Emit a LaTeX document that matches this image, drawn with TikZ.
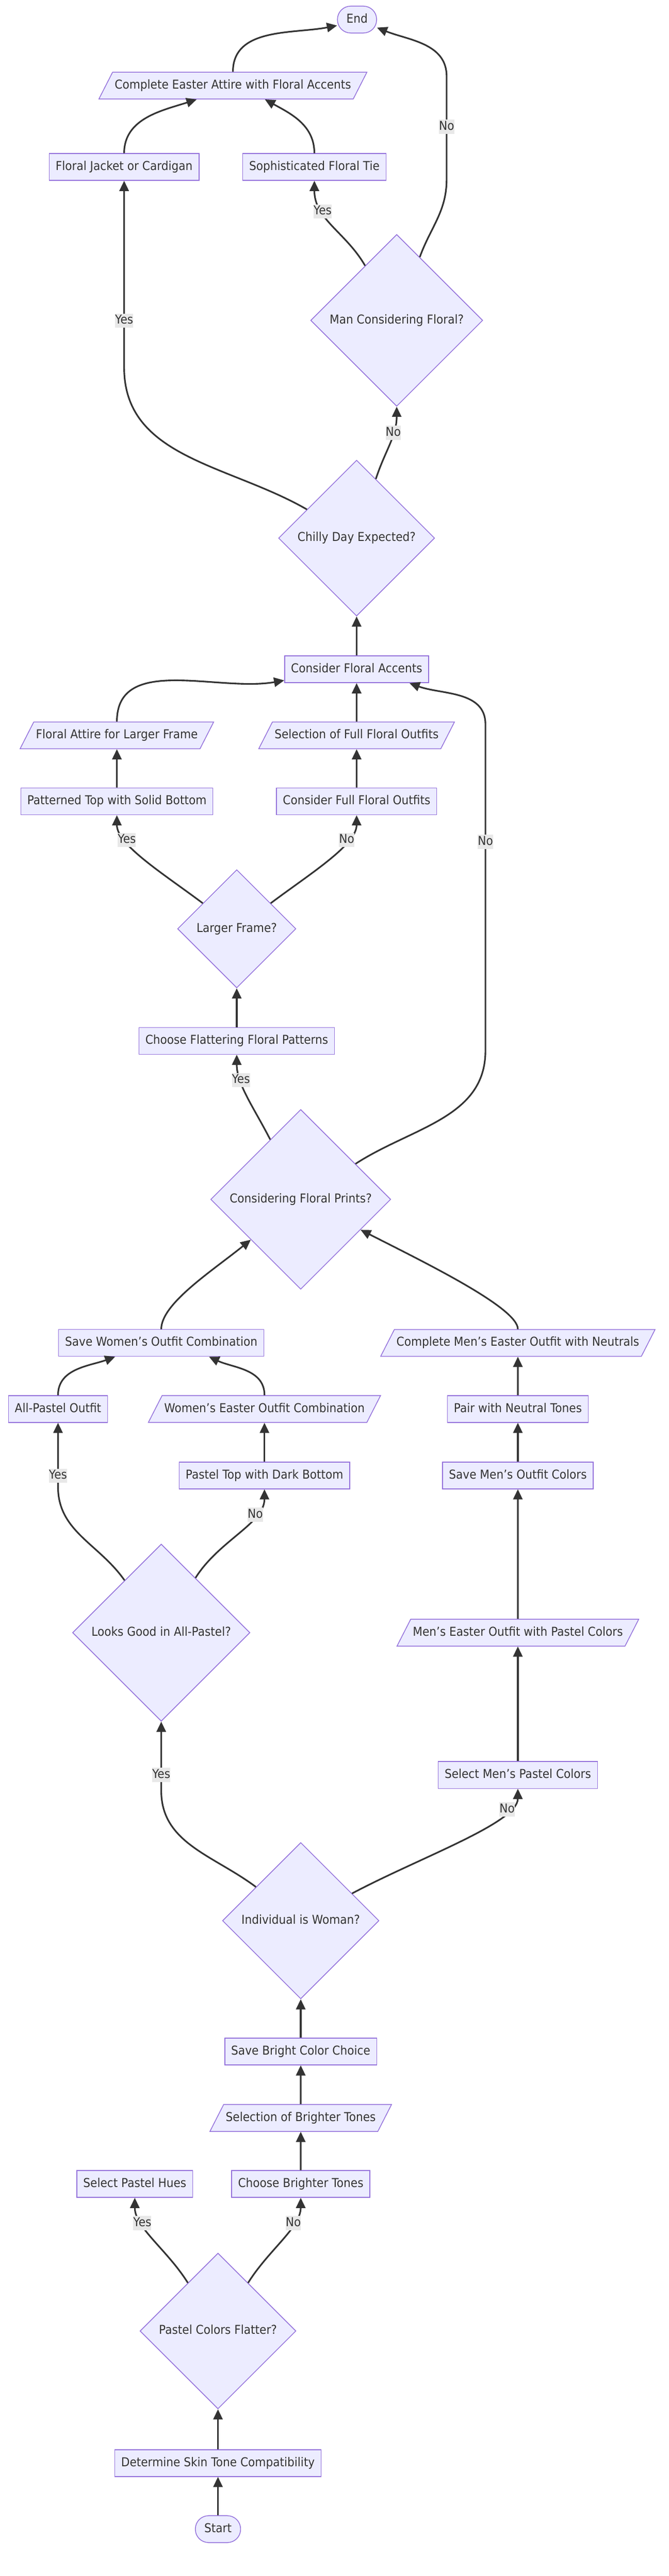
\documentclass[tikz,border=0pt]{standalone}
\usepackage{fontspec}
\setmainfont{DejaVu Sans}[FakeStretch=0.91]
\usetikzlibrary{positioning,shapes.geometric,arrows.meta}

\definecolor{nodefill}{HTML}{ECECFF}
\definecolor{nodeline}{HTML}{9370DB}
\definecolor{edgegray}{HTML}{333333}
\definecolor{labelfill}{HTML}{E8E8E8}

\begin{document}
\begin{tikzpicture}[font=\fontsize{14.4pt}{17pt}\selectfont,text=edgegray]

		\tikzstyle{process}=[rectangle,
			fill=nodefill,draw=nodeline,line width=0.9pt,
			text height=11pt,text depth=3.5pt,
			minimum height=31.5pt,inner xsep=7.5pt,align=center]
		\tikzstyle{decision}=[diamond,aspect=1,
			fill=nodefill,draw=nodeline,line width=0.9pt,
			text height=11pt,text depth=3.5pt,inner sep=7.5pt]
		\tikzstyle{data}=[trapezium,trapezium left angle=63,trapezium right angle=117,
			fill=nodefill,draw=nodeline,line width=0.9pt,
			text height=11pt,text depth=3.5pt,inner ysep=8.5pt,inner xsep=2.5pt]
		\tikzstyle{terminal}=[rectangle,rounded corners=15.5pt,
			fill=nodefill,draw=nodeline,line width=0.9pt,
			text height=11pt,text depth=3.5pt,
			minimum height=31.5pt,inner xsep=10.5pt]
		\tikzstyle{flow}=[->,>={Triangle[length=12pt,width=11pt]},line width=1.9pt,draw=edgegray]
		\tikzstyle{answer}=[fill=labelfill,text height=11pt,text depth=3.5pt,inner xsep=0pt,inner ysep=1pt]

		\useasboundingbox (-255.5pt,-55pt) rectangle (528.5pt,2968pt);

		\node[terminal]	(start)	{Start};
		\node[process,above of=start,node distance=77.5pt]	(skin)	{Determine Skin Tone Compatibility};
		\node[decision,above of=skin,node distance=155pt]	(flatter)	{Pastel Colors Flatter?};
		\node[process,above of=flatter,node distance=172.5pt,xshift=-97.5pt]	(hues)	{Select Pastel Hues};
		\node[process,above of=flatter,node distance=172.5pt,xshift=97pt]	(brighter)	{Choose Brighter Tones};
		\node[data,above of=brighter,node distance=77.5pt]	(brightsel)	{Selection of Brighter Tones};
		\node[process,above of=brightsel,node distance=78pt]	(brightsave)	{Save Bright Color Choice};
		\node[decision,above of=brightsave,node distance=153.5pt]	(woman)	{Individual is Woman?};
		\node[process,above of=woman,node distance=171pt,xshift=254.5pt]	(menpastel)	{Select Men's Pastel Colors};
		\node[data,above of=menpastel,node distance=167pt]	(menoutfit)	{Men's Easter Outfit with Pastel Colors};
		\node[process,above of=menoutfit,node distance=184.5pt]	(mensave)	{Save Men's Outfit Colors};
		\node[process,above of=mensave,node distance=78pt]	(neutral)	{Pair with Neutral Tones};
		\node[data,above of=neutral,node distance=77.5pt]	(mencomplete)	{Complete Men's Easter Outfit with Neutrals};
		\node[decision,above of=woman,node distance=338pt,xshift=-163.5pt]	(looks)	{Looks Good in All-Pastel?};
		\node[process,above of=looks,node distance=262.5pt,xshift=-121pt]	(allout)	{All-Pastel Outfit};
		\node[process,above of=looks,node distance=184.5pt,xshift=121pt]	(pasteltop)	{Pastel Top with Dark Bottom};
		\node[data,above of=pasteltop,node distance=78pt]	(womencombo)	{Women's Easter Outfit Combination};
		\node[process,above of=looks,node distance=340pt]	(womensave)	{Save Women's Outfit Combination};
		\node[decision,above of=woman,node distance=846.5pt]	(prints)	{Considering Floral Prints?};
		\node[process,above of=prints,node distance=186pt,xshift=-75pt]	(flattering)	{Choose Flattering Floral Patterns};
		\node[decision,above of=flattering,node distance=131.5pt]	(frame)	{Larger Frame?};
		\node[process,above of=frame,node distance=149.5pt,xshift=-140.5pt]	(patterned)	{Patterned Top with Solid Bottom};
		\node[process,above of=frame,node distance=149.5pt,xshift=140.5pt]	(fullfloral)	{Consider Full Floral Outfits};
		\node[data,above of=patterned,node distance=77.5pt]	(framesel)	{Floral Attire for Larger Frame};
		\node[data,above of=fullfloral,node distance=77.5pt]	(fullsel)	{Selection of Full Floral Outfits};
		\node[process,above of=fullsel,node distance=77.5pt]	(accents)	{Consider Floral Accents};
		\node[decision,above of=accents,node distance=154pt]	(chilly)	{Chilly Day Expected?};
		\node[decision,above of=chilly,node distance=255.5pt,xshift=47pt]	(mancons)	{Man Considering Floral?};
		\node[process,above of=chilly,node distance=435.5pt,xshift=-272.5pt]	(jacket)	{Floral Jacket or Cardigan};
		\node[process,above of=mancons,node distance=180pt,xshift=-96.5pt]	(tie)	{Sophisticated Floral Tie};
		\node[data,above of=jacket,node distance=95.5pt,xshift=127.5pt]	(attire)	{Complete Easter Attire with Floral Accents};
		\node[terminal,above of=attire,node distance=77.5pt,xshift=145.5pt]	(end)	{End};

		\coordinate (printsno) at ([xshift=151pt,yshift=-447.5pt]accents.center);
		\coordinate (accentsno) at ([xshift=151pt,yshift=-64.5pt]accents.center);
		\coordinate (manlow) at ([xshift=105pt,yshift=-187.5pt]end.center);
		\coordinate (manhigh) at ([xshift=105pt,yshift=-66.5pt]end.center);

		\draw[flow] (start) -- (skin);
		\draw[flow] (skin) -- (flatter);
		\draw[flow] (flatter) to[out=122,in=270,in distance=35pt] node[answer,pos=0.7]{Yes} (hues);
		\draw[flow] (flatter) to[out=58,in=270,in distance=35pt] node[answer,pos=0.7]{No} (brighter);
		\draw[flow] (brighter) -- (brightsel);
		\draw[flow] (brightsel) -- (brightsave);
		\draw[flow] (brightsave) -- (woman);
		\draw[flow] (woman) to[out=143,in=270] ([yshift=-81pt]looks.south) -- node[answer,pos=0.23]{Yes} (looks);
		\draw[flow] (woman) to[out=28,in=270,in distance=40pt] node[answer,pos=0.8]{No} (menpastel);

		\draw[flow] (menpastel) -- (menoutfit);
		\draw[flow] (menoutfit) -- (mensave);
		\draw[flow] (mensave) -- (neutral);
		\draw[flow] (neutral) -- (mencomplete);
		\draw[flow] (mencomplete) to[out=90,in=-27,out distance=25pt] (prints);

		\draw[flow] (looks) to[out=125,in=270] ([yshift=-75pt]allout.south) -- node[answer,pos=0.17]{Yes} (allout);
		\draw[flow] (looks) to[out=58,in=270,in distance=40pt] node[answer,pos=0.72]{No} (pasteltop);
		\draw[flow] (pasteltop) -- (womencombo);
		\draw[flow] (allout) to[out=90,in=200] ([xshift=-54pt]womensave.south);
		\draw[flow] (womencombo) to[out=90,in=335] ([xshift=56pt]womensave.south);
		\draw[flow] (womensave) to[out=90,in=219,out distance=30pt] (prints);

		\draw[flow] (prints) to[out=117,in=270,in distance=35pt] node[answer,pos=0.7]{Yes} (flattering);
		\draw[flow] (prints) to[out=33,in=270] (printsno) -- node[answer,pos=0.64]{No} (accentsno) to[out=90,in=-20] ([xshift=62pt]accents.south);
		\draw[flow] (flattering) -- (frame);
		\draw[flow] (frame) to[out=143,in=270,in distance=35pt] node[answer,pos=0.72]{Yes} (patterned);
		\draw[flow] (frame) to[out=37,in=270,in distance=35pt] node[answer,pos=0.72]{No} (fullfloral);
		\draw[flow] (patterned) -- (framesel);
		\draw[flow] (fullfloral) -- (fullsel);
		\draw[flow] (framesel) to[out=90,in=190] ([yshift=-13pt]accents.west);
		\draw[flow] (fullsel) -- (accents);

		\draw[flow] (accents) -- (chilly);
		\draw[flow] (chilly) to[out=150,in=270] ([yshift=-219pt]jacket.south) -- node[answer,pos=0.25]{Yes} (jacket);
		\draw[flow] (chilly) to[out=72,in=270] node[answer,pos=0.66]{No} (mancons);
		\draw[flow] (mancons) to[out=120,in=270] node[answer,pos=0.68]{Yes} (tie);
		\draw[flow] (mancons) to[out=70,in=270] (manlow) -- node[answer,pos=0.51]{No} (manhigh) to[out=90,in=-22] (end);
		\draw[flow] (jacket) to[out=90,in=198] ([xshift=-42.5pt]attire.south);
		\draw[flow] (tie) to[out=90,in=331] ([xshift=37.5pt]attire.south);
		\draw[flow] (attire) to[out=90,in=191] ([yshift=-7pt]end.west);

	\end{tikzpicture}
\end{document}
